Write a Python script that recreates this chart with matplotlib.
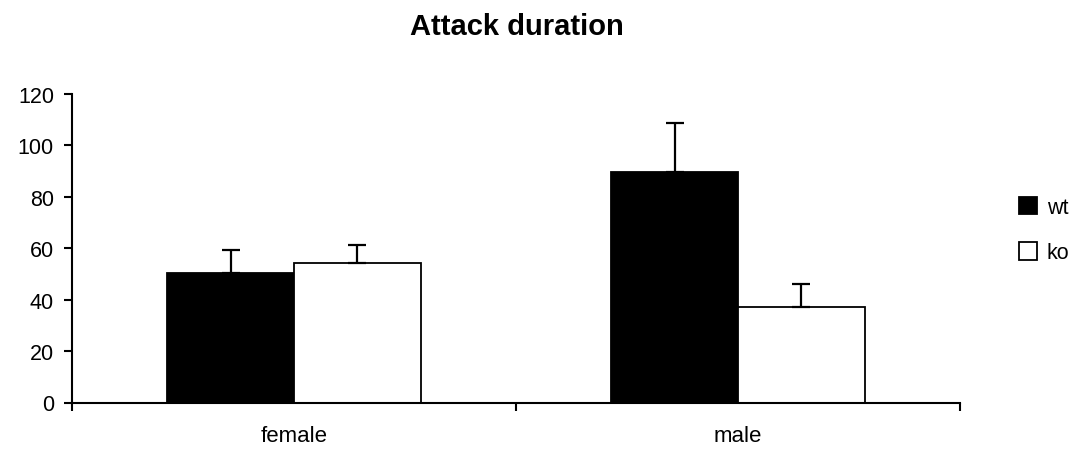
import matplotlib
matplotlib.use("Agg")
import matplotlib.pyplot as plt
import numpy as np

plt.rcParams['font.family'] = ['Liberation Sans', 'DejaVu Sans']

categories = ["female", "male"]
groups = ["wt", "ko"]
wt_means = [50.5, 89.5]
wt_err = [9.0, 19.2]
ko_means = [54.2, 37.3]
ko_err = [7.0, 8.8]
yticks = [0, 20, 40, 60, 80, 100, 120]

fig = plt.figure(figsize=(10.83, 4.52), dpi=100)
ax = fig.add_axes([72 / 1083, 1 - 403.5 / 452, (960 - 72) / 1083, (403.5 - 95) / 452])

x = np.arange(len(categories))
w = 0.286
err_kw = dict(ecolor="black", elinewidth=1.6, capsize=6.5, capthick=1.6)
b1 = ax.bar(x - w / 2, wt_means, w, color="black", edgecolor="black", linewidth=1.3,
            yerr=[np.zeros(2), wt_err], error_kw=err_kw, label=groups[0], zorder=2)
b2 = ax.bar(x + w / 2, ko_means, w, color="white", edgecolor="black", linewidth=1.3,
            yerr=[np.zeros(2), ko_err], error_kw=err_kw, label=groups[1], zorder=2)

ax.set_xlim(-0.5, 1.5)
ax.set_ylim(0, 120)
ax.set_yticks(yticks)
ax.set_yticklabels([str(t) for t in yticks], fontsize=15.5)

# category labels centred, tick marks at the group boundaries
ax.set_xticks([-0.5, 0.5, 1.5])
ax.set_xticklabels([])
ax.set_xticks(x, minor=True)
ax.set_xticklabels(categories, minor=True, fontsize=16)
ax.tick_params(axis="x", which="minor", length=0, pad=16)
ax.tick_params(axis="x", which="major", length=6, width=1.5, direction="out")
ax.tick_params(axis="y", length=6, width=1.5, direction="out", pad=7)

for s in ["top", "right"]:
    ax.spines[s].set_visible(False)
for s in ["left", "bottom"]:
    ax.spines[s].set_linewidth(1.5)

fig.text(0.477, 0.94, "Attack duration", ha="center", va="center",
         fontsize=21, fontweight="bold")

fig.legend(handles=[b1, b2], labels=groups, loc="center left",
           bbox_to_anchor=(1008 / 1083, 1 - 231 / 452), frameon=False,
           fontsize=15.5, handlelength=0.85, handleheight=0.85, handletextpad=0.45,
           labelspacing=1.15, borderpad=0)

fig.savefig("out.png", dpi=100)
